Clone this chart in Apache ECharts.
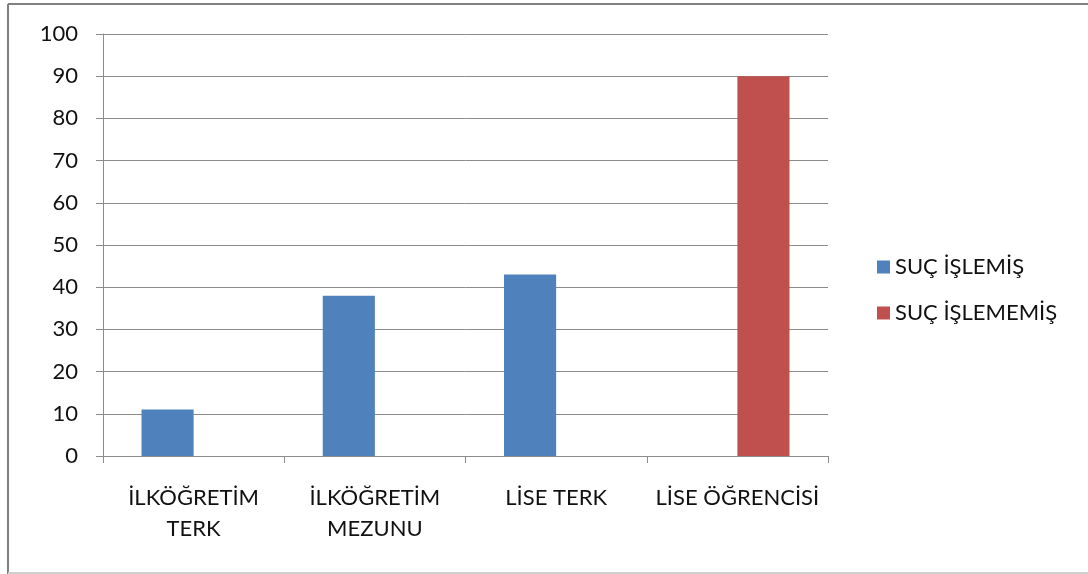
<!DOCTYPE html>
<html>
<head>
<meta charset="utf-8">
<script src="https://cdn.jsdelivr.net/npm/echarts@6/dist/echarts.min.js"></script>
<style>html,body{margin:0;padding:0;background:#fff}#c{width:1088px;height:574px}</style>
</head>
<body>
<div id="c"></div>
<script>
const categories = ['İLKÖĞRETİM\nTERK', 'İLKÖĞRETİM\nMEZUNU', 'LİSE TERK', 'LİSE ÖĞRENCİSİ'];
const suclamis = [11, 38, 43, '-'];
const suclamamis = ['-', '-', '-', 90];
const seriesNames = ['SUÇ İŞLEMİŞ', 'SUÇ İŞLEMEMİŞ'];
const yTicks = { min: 0, max: 100, interval: 10 };

const font = 'Lato, "Open Sans", sans-serif';
const chart = echarts.init(document.getElementById('c'), null, { renderer: 'canvas' });
chart.setOption({
  animation: false,
  backgroundColor: '#fff',
  graphic: [
    { type: 'line', shape: { x1: 8, y1: 4, x2: 1088, y2: 4 }, style: { stroke: '#808080', lineWidth: 2 } },
    { type: 'line', shape: { x1: 8, y1: 4, x2: 8, y2: 574 }, style: { stroke: '#808080', lineWidth: 2 } },
    { type: 'line', shape: { x1: 8, y1: 573, x2: 1088, y2: 573 }, style: { stroke: '#d0d0d0', lineWidth: 2 } }
  ],
  grid: { left: 103, right: 260, top: 34, bottom: 118 },
  legend: {
    orient: 'vertical',
    left: 872,
    top: 251,
    itemWidth: 13,
    itemHeight: 13,
    itemGap: 24,
    icon: 'rect',
    textStyle: { fontFamily: font, fontSize: 22, color: '#111' },
    data: seriesNames
  },
  xAxis: {
    type: 'category',
    data: categories,
    axisLine: { lineStyle: { color: '#8c8c8c', width: 1 } },
    axisTick: { show: true, length: 7, lineStyle: { color: '#8c8c8c' } },
    axisLabel: { fontFamily: font, fontSize: 22, color: '#111', margin: 26, lineHeight: 31, interval: 0 }
  },
  yAxis: {
    type: 'value',
    min: yTicks.min,
    max: yTicks.max,
    interval: yTicks.interval,
    axisLine: { show: true, lineStyle: { color: '#8c8c8c' } },
    axisTick: { show: true, length: 7, lineStyle: { color: '#8c8c8c' } },
    axisLabel: { fontFamily: font, fontSize: 22, color: '#111', margin: 25 },
    splitLine: { lineStyle: { color: '#8c8c8c', width: 1 } }
  },
  series: [
    { name: seriesNames[0], type: 'bar', data: suclamis, itemStyle: { color: '#4F81BD' }, barGap: '0%', barCategoryGap: '42.5%' },
    { name: seriesNames[1], type: 'bar', data: suclamamis, itemStyle: { color: '#C0504D' }, barGap: '0%', barCategoryGap: '42.5%' }
  ]
});
</script>
</body>
</html>
